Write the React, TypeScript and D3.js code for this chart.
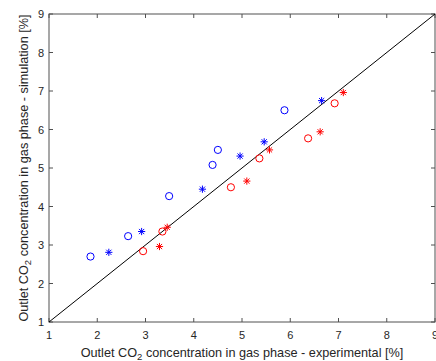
import React from "react";
import * as d3 from "d3";

// experimental [%], simulated [%]
const blueCircleX = [1.86, 2.64, 3.49, 4.39, 4.50, 5.88];
const blueCircleY = [2.70, 3.23, 4.27, 5.08, 5.47, 6.50];
const blueStarX = [2.24, 2.92, 4.18, 4.96, 5.46, 6.65];
const blueStarY = [2.81, 3.35, 4.45, 5.31, 5.68, 6.75];
const redCircleX = [2.95, 3.35, 4.77, 5.36, 6.37, 6.92];
const redCircleY = [2.84, 3.35, 4.50, 5.25, 5.77, 6.68];
const redStarX = [3.29, 3.45, 5.10, 5.57, 6.62, 7.10];
const redStarY = [2.96, 3.46, 4.66, 5.47, 5.94, 6.96];
const ticks = [1, 2, 3, 4, 5, 6, 7, 8, 9];

const W = 436, H = 361;
const m = { left: 49, right: 435, top: 14, bottom: 322 };
const font = "'Liberation Sans', Arial, sans-serif";
const axisColor = "#505050";

const App = () => {
  const x = d3.scaleLinear().domain([1, 9]).range([m.left, m.right]);
  const y = d3.scaleLinear().domain([1, 9]).range([m.bottom, m.top]);

  const star = (cx, cy, color, key) => {
    const r = 3.6;
    const d = r * 0.72;
    return (
      <g key={key} stroke={color} strokeWidth={1}>
        <line x1={cx - r} y1={cy} x2={cx + r} y2={cy} />
        <line x1={cx} y1={cy - r} x2={cx} y2={cy + r} />
        <line x1={cx - d} y1={cy - d} x2={cx + d} y2={cy + d} />
        <line x1={cx - d} y1={cy + d} x2={cx + d} y2={cy - d} />
      </g>
    );
  };

  const circles = (xs, ys, color, k) =>
    xs.map((v, i) => (
      <circle key={k + i} cx={x(v)} cy={y(ys[i])} r={3.6} fill="none" stroke={color} strokeWidth={1} />
    ));
  const stars = (xs, ys, color, k) => xs.map((v, i) => star(x(v), y(ys[i]), color, k + i));

  return (
    <svg width={W} height={H} style={{ position: "absolute", left: 0, top: 0, background: "#fff" }} fontFamily={font}>
      <rect x={0} y={0} width={W} height={H} fill="#fff" />
      {/* frame */}
      <rect x={m.left} y={m.top} width={m.right - m.left} height={m.bottom - m.top} fill="none" stroke={axisColor} strokeWidth={1} />
      {ticks.map(t => (
        <g key={"t" + t} stroke={axisColor} strokeWidth={1}>
          <line x1={x(t)} x2={x(t)} y1={m.bottom} y2={m.bottom - 4} />
          <line x1={x(t)} x2={x(t)} y1={m.top} y2={m.top + 4} />
          <line x1={m.left} x2={m.left + 4} y1={y(t)} y2={y(t)} />
          <line x1={m.right} x2={m.right - 4} y1={y(t)} y2={y(t)} />
        </g>
      ))}
      {ticks.map(t => (
        <text key={"xl" + t} x={x(t)} y={m.bottom + 17} fontSize={11} fill="#262626" textAnchor="middle">{t}</text>
      ))}
      {ticks.map(t => (
        <text key={"yl" + t} x={m.left - 5} y={y(t) + 4} fontSize={11} fill="#262626" textAnchor="end">{t}</text>
      ))}
      {/* 1:1 line */}
      <line x1={x(1)} y1={y(1)} x2={x(9)} y2={y(9)} stroke="#000" strokeWidth={1} />
      {circles(blueCircleX, blueCircleY, "#0000ff", "bc")}
      {stars(blueStarX, blueStarY, "#0000ff", "bs")}
      {circles(redCircleX, redCircleY, "#ff0000", "rc")}
      {stars(redStarX, redStarY, "#ff0000", "rs")}
      <text x={(m.left + m.right) / 2} y={357} fontSize={12.7} fill="#262626" textAnchor="middle">
        Outlet CO<tspan fontSize={9.5} dy={3}>2</tspan><tspan dy={-3}> concentration in gas phase - experimental [%]</tspan>
      </text>
      <text transform={`translate(27.5, ${(m.top + m.bottom) / 2}) rotate(-90)`} fontSize={12.7} fill="#262626" textAnchor="middle">
        Outlet CO<tspan fontSize={9.5} dy={3}>2</tspan><tspan dy={-3}> concentration in gas phase - simulation [%]</tspan>
      </text>
    </svg>
  );
};

export default App;
